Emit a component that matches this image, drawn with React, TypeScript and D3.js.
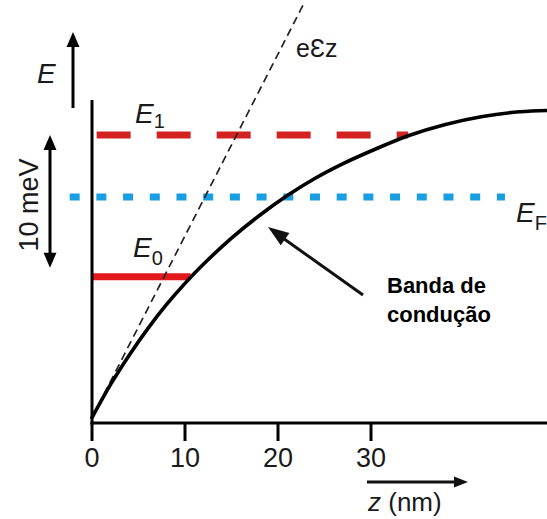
import * as d3 from 'd3'

// band profile: z in nm, energy in meV
const bandZ = [0, 2, 4, 6, 8, 10, 12, 15, 18, 21, 24, 27, 30, 34, 38, 42, 46, 49]
const bandE = [0.4, 2.9, 5.1, 7.1, 8.9, 10.5, 11.95, 13.9, 15.6, 17.1, 18.4, 19.5, 20.45, 21.6, 22.45, 23.05, 23.4, 23.5]

// levels (meV) and their z extent (nm)
const levelNames = ['E0', 'E1', 'EF']
const levelE = [11.0, 21.65, 17.0]
const levelZ = [[0, 10.6], [0.5, 34], [-2.4, 44.4]]

// field line e*E*z
const fieldSlope = 1.367
const fieldZ = [0, 22.7]

const xTicks = [0, 10, 20, 30]

const W = 547
const H = 519

function arrowHead(x1: number, y1: number, x2: number, y2: number, len: number, half: number) {
  const a = Math.atan2(y2 - y1, x2 - x1)
  const bx = x2 - len * Math.cos(a)
  const by = y2 - len * Math.sin(a)
  const px = -Math.sin(a) * half
  const py = Math.cos(a) * half
  return `M${x2},${y2}L${bx + px},${by + py}L${bx - px},${by - py}Z`
}

export default function App() {
  const x = d3.scaleLinear().domain([0, 30]).range([92, 371])
  const y = d3.scaleLinear().domain([0, 10]).range([423, 290])

  const band = d3.line<number>()
    .x((_, i) => x(bandZ[i]))
    .y(d => y(d))
    .curve(d3.curveCatmullRom.alpha(0.5))(bandE) as string

  const x0 = x(0)
  const y0 = y(0)
  const font = 'Liberation Sans, Arial, sans-serif'

  // arrows
  const eArrow = { x: 73, y1: 108, y2: 32 }
  const mevArrow = { x: 50, y1: y(levelE[1]), y2: y(levelE[0]) - 9 }
  const bandArrow = { x1: 363, y1: 295, x2: 268, y2: 227 }
  const zArrow = { x1: 367, x2: 468, y: 482 }

  const levelStyle = [
    { stroke: '#e3191c', dash: undefined, w: 7 },
    { stroke: '#d42222', dash: '34,26', w: 7 },
    { stroke: '#1a9ee2', dash: '10,16.7', w: 7 },
  ]

  return (
    <svg width={W} height={H} style={{ position: 'absolute', left: 0, top: 0, background: '#fff' }}
      fontFamily={font}>
      {/* levels */}
      {levelNames.map((n, i) => (
        <line key={n} x1={x(levelZ[i][0])} x2={x(levelZ[i][1])} y1={y(levelE[i])} y2={y(levelE[i])}
          stroke={levelStyle[i].stroke} strokeWidth={levelStyle[i].w}
          strokeDasharray={levelStyle[i].dash} />
      ))}

      {/* field line */}
      <line x1={x(fieldZ[0])} y1={y(bandE[0] + fieldSlope * fieldZ[0])}
        x2={x(fieldZ[1])} y2={y(bandE[0] + fieldSlope * fieldZ[1])}
        stroke="#222" strokeWidth={1.7} strokeDasharray="8,5" />

      {/* band */}
      <path d={band} fill="none" stroke="#000" strokeWidth={3.6} strokeLinecap="round" />

      {/* axes */}
      <line x1={x0} x2={x0} y1={100} y2={y0 + 1.5} stroke="#000" strokeWidth={3} />
      <line x1={x0 - 1.5} x2={W} y1={y0} y2={y0} stroke="#000" strokeWidth={3} />
      {xTicks.map(t => (
        <g key={t}>
          <line x1={x(t)} x2={x(t)} y1={y0} y2={y0 + 18} stroke="#000" strokeWidth={3} />
          <text x={x(t)} y={467} textAnchor="middle" fontSize={27} fill="#1a1a1a">{t}</text>
        </g>
      ))}

      {/* E axis arrow */}
      <line x1={eArrow.x} x2={eArrow.x} y1={eArrow.y1} y2={eArrow.y2 + 10} stroke="#000" strokeWidth={3} />
      <path d={arrowHead(eArrow.x, eArrow.y1, eArrow.x, eArrow.y2, 15, 6.5)} fill="#000" />
      <text x={37} y={83} fontSize={28} fontStyle="italic" fill="#1a1a1a">E</text>

      {/* 10 meV */}
      <line x1={mevArrow.x} x2={mevArrow.x} y1={mevArrow.y1 + 8} y2={mevArrow.y2 - 8} stroke="#000" strokeWidth={3} />
      <path d={arrowHead(mevArrow.x, mevArrow.y2, mevArrow.x, mevArrow.y1, 15, 6.5)} fill="#000" />
      <path d={arrowHead(mevArrow.x, mevArrow.y1, mevArrow.x, mevArrow.y2, 15, 6.5)} fill="#000" />
      <text transform="translate(38,205) rotate(-90)" textAnchor="middle" fontSize={27} fill="#1a1a1a">10 meV</text>

      {/* level labels */}
      <text x={135} y={123} fontSize={28} fontStyle="italic" fill="#1a1a1a">E<tspan fontSize={20} fontStyle="normal" dy={5}>1</tspan></text>
      <text x={133} y={257} fontSize={28} fontStyle="italic" fill="#1a1a1a">E<tspan fontSize={20} fontStyle="normal" dy={8}>0</tspan></text>
      <text x={516} y={222} fontSize={28} fontStyle="italic" fill="#1a1a1a">E<tspan fontSize={20} fontStyle="normal" dy={8}>F</tspan></text>

      {/* field label */}
      <text x={296} y={57} fontSize={25} fill="#1a1a1a">eƐz</text>

      {/* band label + arrow */}
      <line x1={bandArrow.x1} y1={bandArrow.y1} x2={bandArrow.x2 + 12} y2={bandArrow.y2 + 9} stroke="#111" strokeWidth={3} />
      <path d={arrowHead(bandArrow.x1, bandArrow.y1, bandArrow.x2, bandArrow.y2, 21, 7.5)} fill="#111" />
      <text x={387} y={293} fontSize={22} fontWeight="bold" fill="#000">Banda de</text>
      <text x={387} y={322} fontSize={22} fontWeight="bold" fill="#000">condução</text>

      {/* z axis label */}
      <line x1={zArrow.x1} x2={zArrow.x2 - 8} y1={zArrow.y} y2={zArrow.y} stroke="#111" strokeWidth={3} />
      <path d={arrowHead(zArrow.x1, zArrow.y, zArrow.x2, zArrow.y, 14, 5.5)} fill="#111" />
      <text x={368} y={511} fontSize={26} fill="#1a1a1a"><tspan fontStyle="italic">z</tspan> (nm)</text>
    </svg>
  )
}
